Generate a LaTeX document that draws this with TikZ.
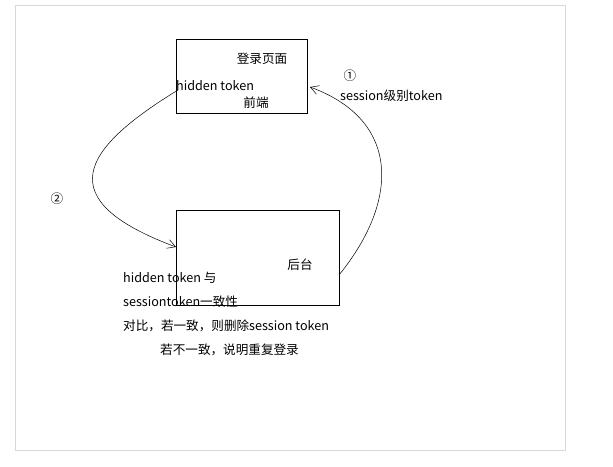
\documentclass[tikz,border=0pt]{standalone}
\usepackage{fontspec}
\usetikzlibrary{arrows.meta}
\setmainfont{Noto Sans CJK SC}
\begin{document}
\begin{tikzpicture}[x=1pt,y=-1pt,
  txt/.style={inner sep=0pt,font=\fontsize{12.6}{14}\selectfont},
  boxst/.style={draw,line width=0.7pt},
  arr/.style={line width=0.5pt,-{Straight Barb[length=8pt,width=9pt]}}]
\useasboundingbox (0,0) rectangle (613,466);
\draw[black!15,line width=0.8pt] (15,5) rectangle (565,450);
\node[boxst,minimum width=131pt,minimum height=74pt,inner sep=0pt] (fe) at (241.5,76) {};
\node[boxst,minimum width=163pt,minimum height=95pt,inner sep=0pt] (be) at (257.5,257.5) {};
\node[txt] (t1) at (262,59) {登录页面};
\node[txt,anchor=west] (t2) at (176,86) {hidden token};
\node[txt] (t3) at (256,103) {前端};
\node[txt] (t4) at (300,265) {后台};
\node[txt] (c1) at (350,76) {①};
\node[txt,anchor=west] (t5) at (340,96) {session级别token};
\node[txt] (c2) at (57,199) {②};
\node[txt,anchor=west] (l1) at (123,278) {hidden token 与};
\node[txt,anchor=west] (l2) at (123,302) {sessiontoken一致性};
\node[txt,anchor=west] (l3) at (123,326) {对比，若一致，则删除session token};
\node[txt,anchor=west] (l4) at (160,350) {若不一致，说明重复登录};
\coordinate (a1) at (339,275);
\coordinate (a2) at (310,87);
\coordinate (b1) at (178,90);
\coordinate (b2) at (176,247);
\draw[arr] (a1) .. controls (400,200) and (400,120) .. (a2);
\draw[arr] (b1) .. controls (80,150) and (50,200) .. (b2);
\end{tikzpicture}
\end{document}
